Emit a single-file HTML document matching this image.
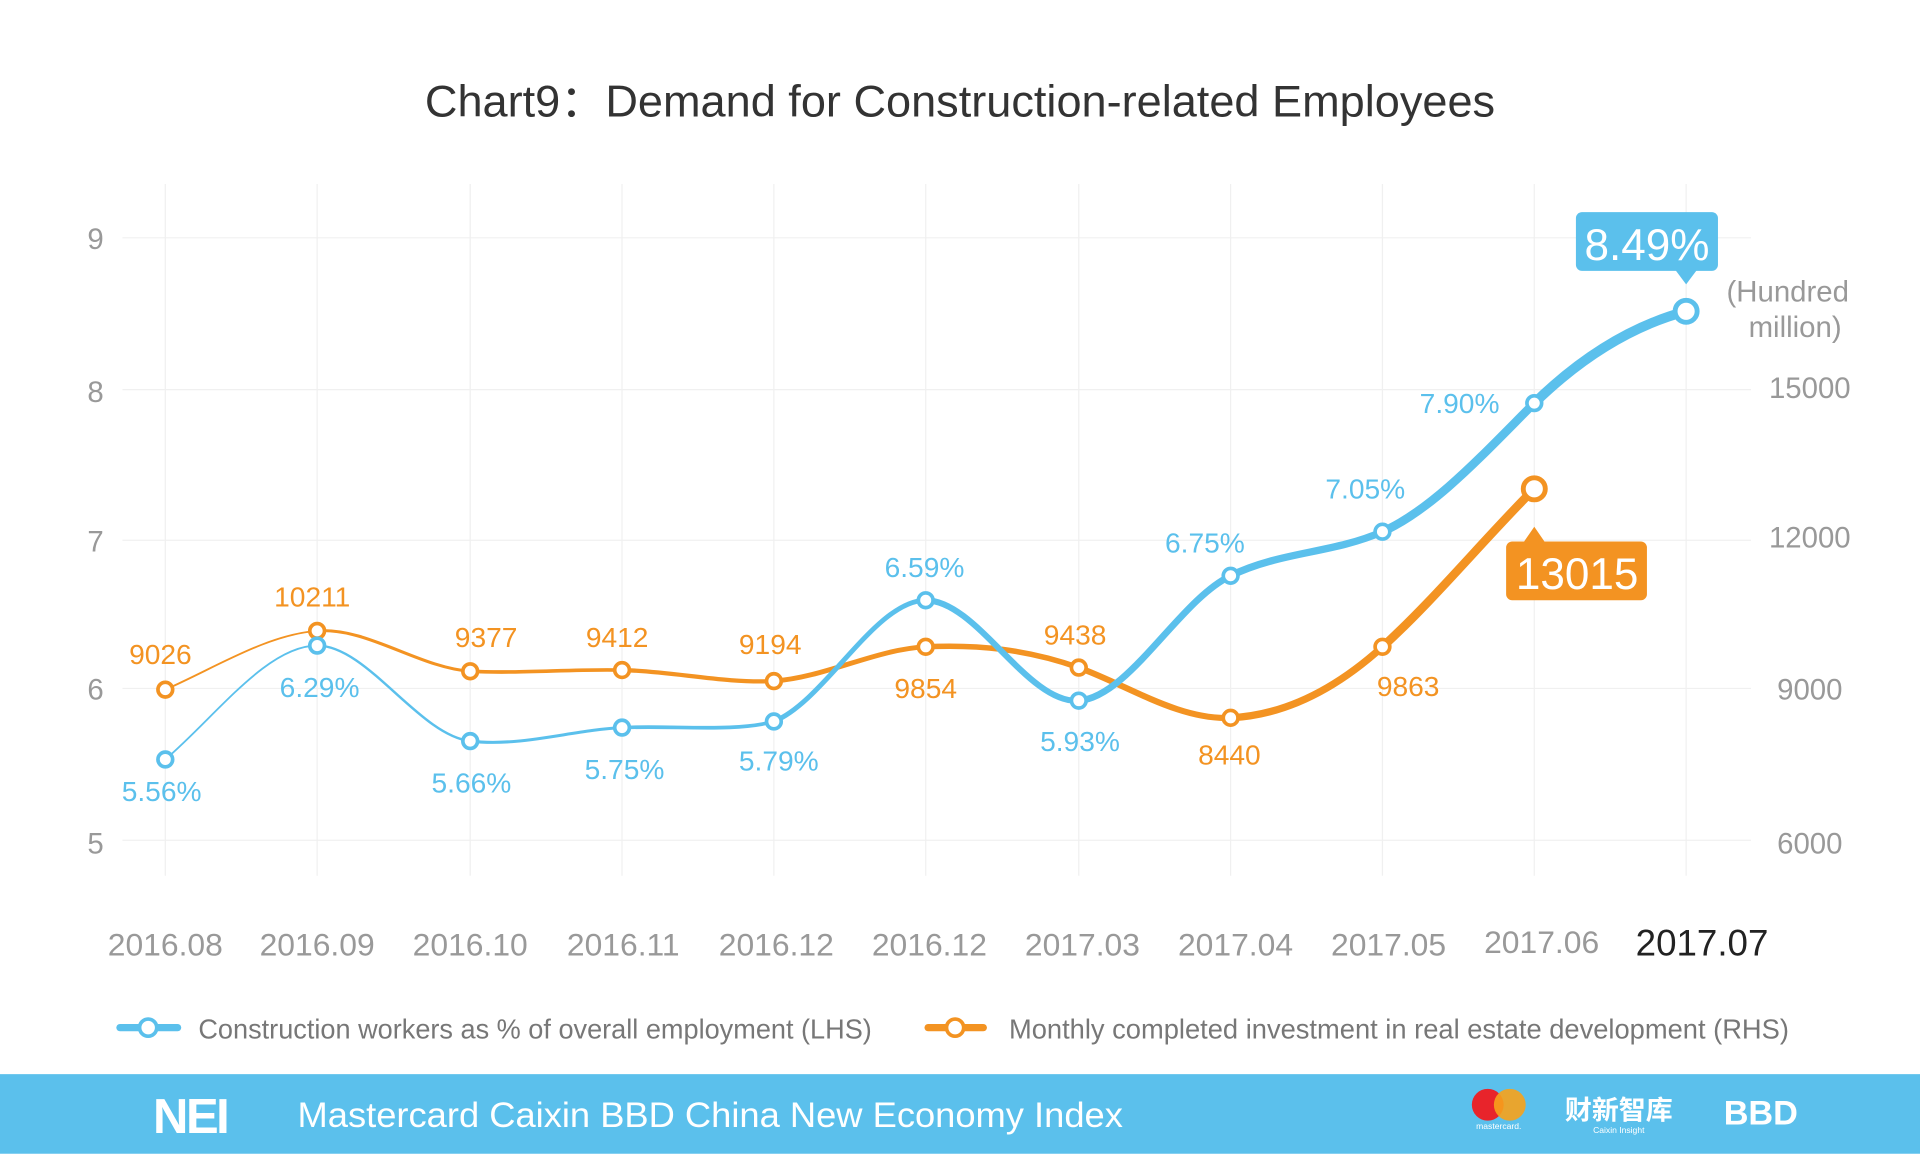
<!DOCTYPE html>
<html><head><meta charset="utf-8"><style>
html,body{margin:0;padding:0;background:#fff;}
svg{display:block;}
text{font-family:"Liberation Sans","Noto Sans CJK SC",sans-serif;}
</style></head><body>
<svg width="1920" height="1154" viewBox="0 0 1568 942" xmlns="http://www.w3.org/2000/svg">
<rect width="1568" height="942" fill="#fff"/>
<text x="347" y="95" font-size="36" fill="#333" textLength="874" lengthAdjust="spacingAndGlyphs">Chart9：Demand for Construction-related Employees</text>
<g stroke="#f0f0f0" stroke-width="1">
<line x1="100" y1="194" x2="1430" y2="194"/><line x1="100" y1="318" x2="1430" y2="318"/><line x1="100" y1="441" x2="1430" y2="441"/><line x1="100" y1="562" x2="1430" y2="562"/><line x1="100" y1="686" x2="1430" y2="686"/>
<line x1="135" y1="150" x2="135" y2="715"/><line x1="259" y1="150" x2="259" y2="715"/><line x1="384" y1="150" x2="384" y2="715"/><line x1="508" y1="150" x2="508" y2="715"/><line x1="632" y1="150" x2="632" y2="715"/><line x1="756" y1="150" x2="756" y2="715"/><line x1="881" y1="150" x2="881" y2="715"/><line x1="1005" y1="150" x2="1005" y2="715"/><line x1="1129" y1="150" x2="1129" y2="715"/><line x1="1253" y1="150" x2="1253" y2="715"/><line x1="1377" y1="150" x2="1377" y2="715"/>
</g>
<g font-size="24" fill="#999" text-anchor="middle">
<text x="78" y="203">9</text><text x="78" y="328">8</text><text x="78" y="450">7</text><text x="78" y="571">6</text><text x="78" y="697">5</text>
<text x="1478" y="325">15000</text><text x="1478" y="447">12000</text><text x="1478" y="571">9000</text><text x="1478" y="697">6000</text>
<text x="1460" y="246">(Hundred</text><text x="1466" y="275">million)</text>
</g>
<g font-size="26" fill="#999" text-anchor="middle">
<text x="135" y="780">2016.08</text><text x="259" y="780">2016.09</text><text x="384" y="780">2016.10</text><text x="509" y="780">2016.11</text><text x="634" y="780">2016.12</text><text x="759" y="780">2016.12</text><text x="884" y="780">2017.03</text><text x="1009" y="780">2017.04</text><text x="1134" y="780">2017.05</text><text x="1259" y="778">2017.06</text>
<text x="1390" y="780" fill="#222" font-size="30">2017.07</text>
</g>
<g fill="none" stroke="#f39322" stroke-linecap="round">
<path d="M135,563 C176,545 218,518 259,515" stroke-width="1.5"/>
<path d="M259,515 C300,512 342,545 384,548" stroke-width="2.5"/>
<path d="M384,548 C425,550 467,546 508,547" stroke-width="3"/>
<path d="M508,547 C550,548 591,558 632,556" stroke-width="3.5"/>
<path d="M632,556 C674,553 715,530 756,528" stroke-width="4"/>
<path d="M756,528 C798,526 839,530 881,545" stroke-width="4.5"/>
<path d="M881,545 C922,560 963,588 1005,586" stroke-width="5"/>
<path d="M1005,586 C1046,584 1088,565 1129,528" stroke-width="6"/>
<path d="M1129,528 C1170,491 1212,440 1253,399" stroke-width="7"/>
</g>
<g fill="none" stroke="#5bc0ec" stroke-linecap="round">
<path d="M135,620 C176,585 218,527 259,527" stroke-width="1.5"/>
<path d="M259,527 C300,527 342,600 384,605" stroke-width="2"/>
<path d="M384,605 C425,610 467,596 508,594" stroke-width="2.5"/>
<path d="M508,594 C550,592 600,598 632,589" stroke-width="3"/>
<path d="M632,589 C674,572 715,490 756,490" stroke-width="4"/>
<path d="M756,490 C798,490 839,575 881,572" stroke-width="5"/>
<path d="M881,572 C922,569 963,490 1005,470" stroke-width="5.5"/>
<path d="M1005,470 C1046,450 1088,452 1129,434" stroke-width="6"/>
<path d="M1129,434 C1170,416 1212,370 1253,329" stroke-width="7"/>
<path d="M1253,329 C1295,288 1336,265 1377,254" stroke-width="8"/>
</g>
<g fill="#fff" stroke="#f39322" stroke-width="3">
<circle cx="135" cy="563" r="6"/><circle cx="259" cy="515" r="6"/><circle cx="384" cy="548" r="6"/><circle cx="508" cy="547" r="6"/><circle cx="632" cy="556" r="6"/><circle cx="756" cy="528" r="6"/><circle cx="881" cy="545" r="6"/><circle cx="1005" cy="586" r="6"/><circle cx="1129" cy="528" r="6"/><circle cx="1253" cy="399" r="9" stroke-width="4"/>
</g>
<g fill="#fff" stroke="#5bc0ec" stroke-width="3">
<circle cx="135" cy="620" r="6"/><circle cx="259" cy="527" r="6"/><circle cx="384" cy="605" r="6"/><circle cx="508" cy="594" r="6"/><circle cx="632" cy="589" r="6"/><circle cx="756" cy="490" r="6"/><circle cx="881" cy="572" r="6"/><circle cx="1005" cy="470" r="6"/><circle cx="1129" cy="434" r="6"/><circle cx="1253" cy="329" r="6"/><circle cx="1377" cy="254" r="9" stroke-width="4"/>
</g>
<g font-size="23" fill="#f39322" text-anchor="middle">
<text x="131" y="542">9026</text><text x="255" y="495">10211</text><text x="397" y="528">9377</text><text x="504" y="528">9412</text><text x="629" y="534">9194</text><text x="756" y="570">9854</text><text x="878" y="526">9438</text><text x="1004" y="624">8440</text><text x="1150" y="568">9863</text>
</g>
<g font-size="23" fill="#5bc0ec" text-anchor="middle">
<text x="132" y="654">5.56%</text><text x="261" y="569">6.29%</text><text x="385" y="647">5.66%</text><text x="510" y="636">5.75%</text><text x="636" y="629">5.79%</text><text x="755" y="471">6.59%</text><text x="882" y="613">5.93%</text><text x="984" y="451">6.75%</text><text x="1115" y="407">7.05%</text><text x="1192" y="337">7.90%</text>
</g>
<rect x="1287" y="173" width="116" height="48" rx="5" fill="#5bc0ec"/>
<polygon points="1368,220 1386,220 1377,232" fill="#5bc0ec"/>
<text x="1345" y="212" text-anchor="middle" font-size="36" fill="#fff">8.49%</text>
<rect x="1230" y="442" width="115" height="48" rx="5" fill="#f39322"/>
<polygon points="1244,443 1262,443 1253,430" fill="#f39322"/>
<text x="1288" y="481" text-anchor="middle" font-size="36" fill="#fff">13015</text>
<line x1="98" y1="839" x2="145" y2="839" stroke="#5bc0ec" stroke-width="6" stroke-linecap="round"/>
<circle cx="121" cy="839" r="7" fill="#fff" stroke="#5bc0ec" stroke-width="3"/>
<text x="162" y="848" font-size="23" fill="#777" textLength="550" lengthAdjust="spacingAndGlyphs">Construction workers as % of overall employment (LHS)</text>
<line x1="758" y1="839" x2="803" y2="839" stroke="#f39322" stroke-width="6" stroke-linecap="round"/>
<circle cx="780" cy="839" r="7" fill="#fff" stroke="#f39322" stroke-width="3"/>
<text x="824" y="848" font-size="23" fill="#777" textLength="637" lengthAdjust="spacingAndGlyphs">Monthly completed investment in real estate development (RHS)</text>
<rect x="0" y="877" width="1568" height="65" fill="#5bc0ec"/>
<text x="125" y="925" font-size="40" font-weight="bold" fill="#fff" letter-spacing="-2">NEI</text>
<text x="243" y="920" font-size="29" fill="#fff" textLength="674" lengthAdjust="spacingAndGlyphs">Mastercard Caixin BBD China New Economy Index</text>
<circle cx="1215" cy="902" r="13" fill="#e8242b"/><circle cx="1233" cy="902" r="13" fill="#f7a21b" opacity="0.9"/>
<text x="1224" y="922" text-anchor="middle" font-size="7" fill="#fff">mastercard.</text>
<text x="1322" y="914" text-anchor="middle" font-size="22" font-weight="bold" fill="#fff">财新智库</text>
<text x="1322" y="925" text-anchor="middle" font-size="7" fill="#fff">Caixin Insight</text>
<text x="1438" y="918" text-anchor="middle" font-size="28" font-weight="bold" fill="#fff">BBD</text>
</svg>
</body></html>
